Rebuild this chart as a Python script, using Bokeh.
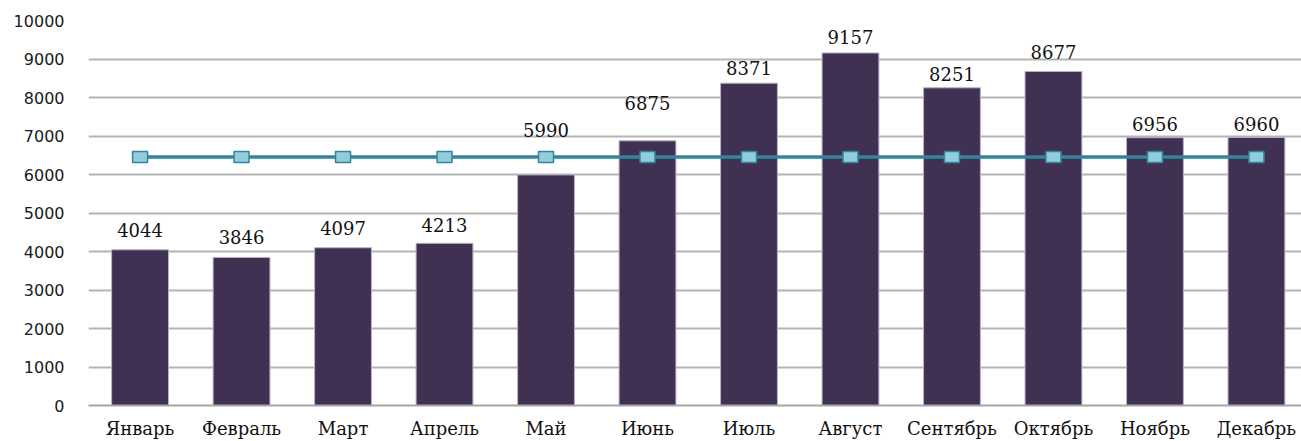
from bokeh.plotting import figure
from bokeh.models import Range1d, FixedTicker, ColumnDataSource
from bokeh.embed import file_html
from bokeh.resources import INLINE
from bokeh.core.properties import value

months = ["Январь", "Февраль", "Март", "Апрель", "Май", "Июнь", "Июль",
          "Август", "Сентябрь", "Октябрь", "Ноябрь", "Декабрь"]
counts = [4044, 3846, 4097, 4213, 5990, 6875, 8371, 9157, 8251, 8677, 6956, 6960]
average = [6453, 6453, 6453, 6453, 6453, 6453, 6453, 6453, 6453, 6453, 6453, 6453]
y_ticks = [0, 1000, 2000, 3000, 4000, 5000, 6000, 7000, 8000, 9000, 10000]

# screen-pixel nudges of the value labels above each bar (style only)
label_nudge = [-20, -20, -20, -18, -45, -38, -15, -16, -14, -19, -14, -14]

xs = list(range(len(months)))
src = ColumnDataSource(dict(x=xs, count=counts, avg=average,
                            label=[str(v) for v in counts], dy=label_nudge))

p = figure(width=1301, height=441, output_backend="svg", toolbar_location=None,
           x_range=Range1d(-0.508, 11.444), y_range=Range1d(0, 10000),
           min_border_left=88, min_border_right=0, min_border_top=20,
           min_border_bottom=35, outline_line_color=None)
p.background_fill_color = "white"
p.border_fill_color = "white"

p.vbar(x="x", top="count", width=0.56, source=src, fill_color="#403152",
       line_color="#B9B0C8", line_width=1)

p.line(x="x", y="avg", source=src, line_color="#31859C", line_width=3.5)
p.rect(x="x", y="avg", width=15, height=11, width_units="screen",
       height_units="screen", source=src, fill_color="#93CDDD",
       line_color="#31859C", line_width=1.5)

p.text(x="x", y="count", text="label", source=src, text_align="center",
       text_baseline="alphabetic", y_offset="dy",
       text_font=value("DejaVu Serif"), text_font_size="18px",
       text_color="#111111")

p.xaxis.ticker = FixedTicker(ticks=xs)
p.xaxis.major_label_overrides = {i: m for i, m in enumerate(months)}
p.xaxis.major_label_text_font = "DejaVu Serif"
p.xaxis.major_label_text_font_size = "18px"
p.xaxis.major_label_text_color = "#111111"
p.xaxis.major_label_standoff = 6
p.xaxis.major_tick_line_color = None
p.xaxis.minor_tick_line_color = None
p.xaxis.axis_line_color = "#A6A6A6"
p.xaxis.axis_line_width = 2

p.yaxis.ticker = FixedTicker(ticks=y_ticks)
p.yaxis.major_label_text_font = "DejaVu Sans"
p.yaxis.major_label_text_font_size = "16px"
p.yaxis.major_label_text_color = "#1A1A1A"
p.yaxis.major_label_standoff = 18
p.yaxis.major_tick_line_color = None
p.yaxis.minor_tick_line_color = None
p.yaxis.axis_line_color = None

p.xgrid.grid_line_color = None
p.ygrid.grid_line_color = "#B4B4B4"
p.ygrid.grid_line_width = 2

open("out.html", "w").write(file_html(p, INLINE))
